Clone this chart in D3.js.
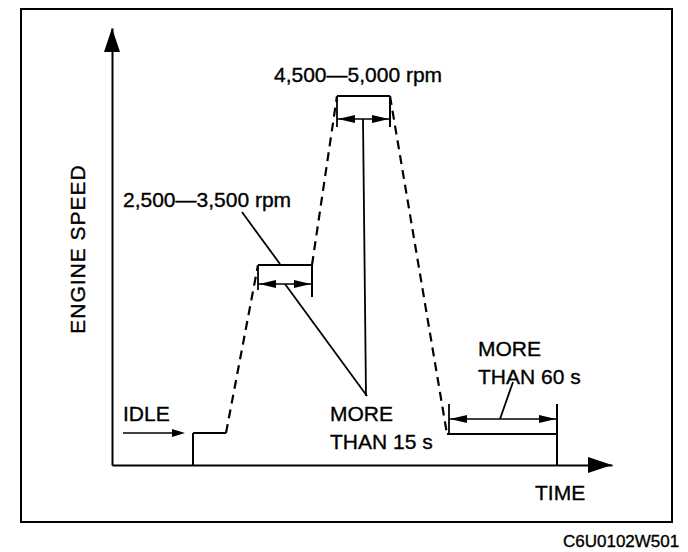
<!DOCTYPE html>
<html>
<head>
<meta charset="utf-8">
<script src="https://cdn.jsdelivr.net/npm/d3@7"></script>
<style>
  body { margin: 0; background: #fff; }
  svg text { font-family: "Liberation Sans", Arial, sans-serif; fill: #000; stroke: #000; stroke-width: 0.35px; }
</style>
</head>
<body>
<div id="chart"></div>
<script>
// Engine speed profile (time units / speed units)
var profileTime  = [81, 81, 114, 146, 200, 225, 278, 335, 445];
var profileSpeed = [0, 32, 32, 200, 200, 369, 369, 31, 31];
var segmentDashed = [false, false, true, false, true, false, true, false];

// hold bands: start, end, top, arrow level, left bottom, right bottom
var holdStart = [146, 225, 337];
var holdEnd   = [200, 278, 445];
var holdTop   = [200, 369, 61];
var holdTopLine = [true, true, false];
var holdArrow = [181, 346, 46];
var holdLeftBottom  = [175, 338, 31];
var holdRightBottom = [168, 338, 0];

var labels = ["2,500\u20143,500 rpm", "4,500\u20145,000 rpm", "IDLE", "MORE", "THAN 15 s", "MORE", "THAN 60 s"];

var width = 688, height = 552;

var svg = d3.select("#chart")
    .append("svg")
    .attr("width", width)
    .attr("height", height);

// outer frame
svg.append("rect")
    .attr("x", 21).attr("y", 9)
    .attr("width", 651).attr("height", 513)
    .attr("fill", "none")
    .attr("stroke", "#000")
    .attr("stroke-width", 2);

var x = d3.scaleLinear().domain([0, 500]).range([112, 612]);
var y = d3.scaleLinear().domain([0, 437]).range([465, 28]);

// axes without ticks
svg.append("g")
    .attr("transform", "translate(0," + y(0) + ")")
    .call(d3.axisBottom(x).tickValues([]).tickSizeOuter(0))
    .select(".domain").attr("stroke-width", 2);

svg.append("g")
    .attr("transform", "translate(" + x(0) + ",0)")
    .call(d3.axisLeft(y).tickValues([]).tickSizeOuter(0))
    .select(".domain").attr("stroke-width", 2);

// filled arrow head with tip at (px,py), pointing in direction angle (deg)
function arrowHead(px, py, angle, len, half) {
    var a = angle * Math.PI / 180;
    var c = Math.cos(a), s = Math.sin(a);
    var bx = px - c * len, by = py - s * len;
    var pts = [
        [px, py],
        [bx - s * half, by + c * half],
        [bx + s * half, by - c * half]
    ];
    svg.append("path")
        .attr("d", "M" + pts.join("L") + "Z")
        .attr("fill", "#000");
}

// axis arrows
arrowHead(x(500), y(0), 0, 24, 8);
arrowHead(x(0), y(437), -90, 24, 8);

// profile segments
var line = d3.line()
    .x(function(d) { return x(d[0]); })
    .y(function(d) { return y(d[1]); });

for (var i = 0; i < profileTime.length - 1; i++) {
    svg.append("path")
        .attr("d", line([[profileTime[i], profileSpeed[i]], [profileTime[i + 1], profileSpeed[i + 1]]]))
        .attr("fill", "none")
        .attr("stroke", "#000")
        .attr("stroke-width", segmentDashed[i] ? 2.2 : 2)
        .attr("stroke-dasharray", segmentDashed[i] ? "9,6" : null);
}

// hold bands with dimension arrows
for (var j = 0; j < holdStart.length; j++) {
    var x0 = x(holdStart[j]), x1 = x(holdEnd[j]);
    if (holdTopLine[j]) {
        svg.append("line")
            .attr("x1", x0).attr("x2", x1)
            .attr("y1", y(holdTop[j])).attr("y2", y(holdTop[j]))
            .attr("stroke", "#000").attr("stroke-width", 1.8);
    }
    svg.append("line")
        .attr("x1", x0).attr("x2", x0)
        .attr("y1", y(holdTop[j])).attr("y2", y(holdLeftBottom[j]))
        .attr("stroke", "#000").attr("stroke-width", 1.8);
    svg.append("line")
        .attr("x1", x1).attr("x2", x1)
        .attr("y1", y(holdTop[j])).attr("y2", y(holdRightBottom[j]))
        .attr("stroke", "#000").attr("stroke-width", 2);
    svg.append("line")
        .attr("x1", x0).attr("x2", x1)
        .attr("y1", y(holdArrow[j])).attr("y2", y(holdArrow[j]))
        .attr("stroke", "#000").attr("stroke-width", 1.6);
    arrowHead(x0 + 1, y(holdArrow[j]), 180, 17, 4);
    arrowHead(x1 - 1, y(holdArrow[j]), 0, 17, 4);
}

// idle arrow
svg.append("line")
    .attr("x1", x(11)).attr("x2", x(66))
    .attr("y1", y(32)).attr("y2", y(32))
    .attr("stroke", "#000").attr("stroke-width", 1.6);
arrowHead(x(73), y(32), 0, 13, 4);

// leader lines
var leaders = [
    [[130, 253], [168, 201]],
    [[173, 181], [255, 69]],
    [[251, 346], [254, 69]],
    [[388, 46], [401, 83]]
];
leaders.forEach(function(l) {
    svg.append("path")
        .attr("d", line(l))
        .attr("fill", "none")
        .attr("stroke", "#000")
        .attr("stroke-width", 1.8);
});

// texts
function label(txt, px, py, size) {
    return svg.append("text")
        .attr("x", px).attr("y", py)
        .attr("font-size", size + "px")
        .text(txt);
}
label(labels[0], 123, 207, 21);
label(labels[1], 274, 82, 21);
label(labels[2], 123, 421, 21);
label(labels[3], 330, 421, 21);
label(labels[4], 330, 449, 21);
label(labels[5], 478, 356, 21);
label(labels[6], 478, 384, 21);
label("TIME", 535, 500, 21);
label("C6U0102W501", 563, 547, 17);

svg.append("text")
    .attr("transform", "translate(85,249) rotate(-90)")
    .attr("text-anchor", "middle")
    .attr("font-size", "21px")
    .attr("letter-spacing", "1px")
    .text("ENGINE SPEED");
</script>
</body>
</html>
